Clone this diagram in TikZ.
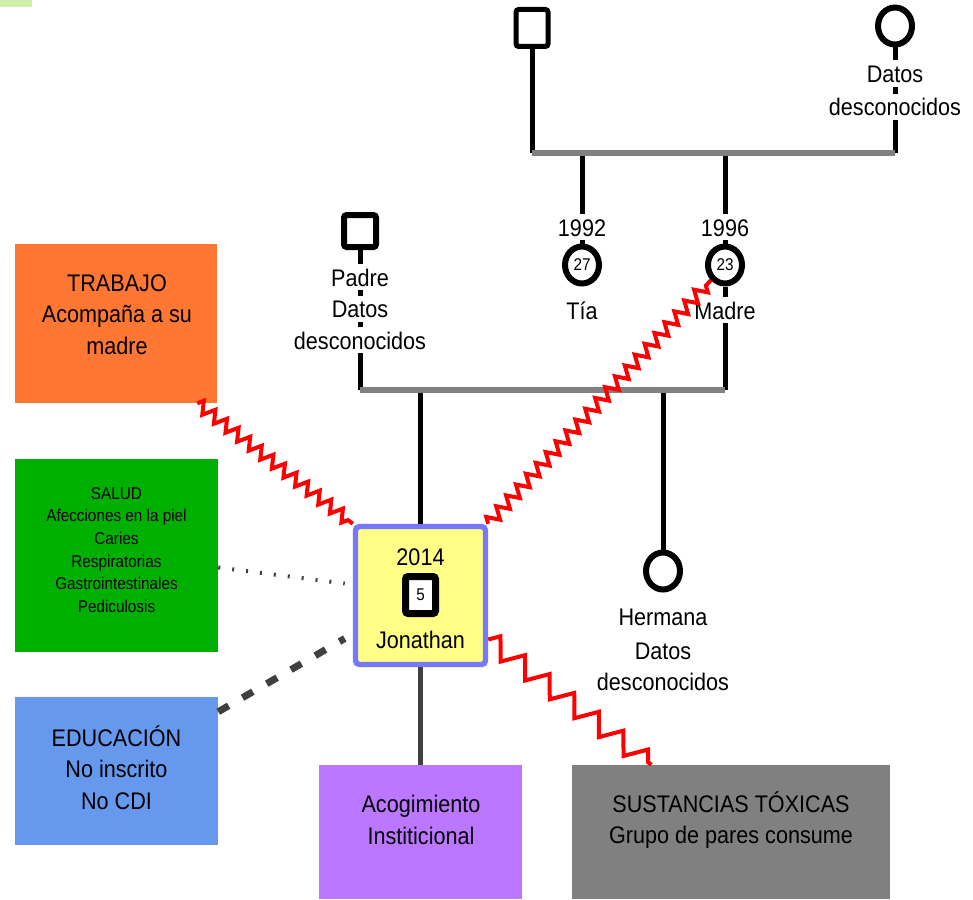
\documentclass[tikz,border=0pt]{standalone}
\usepackage{fontspec}
\setmainfont[FakeStretch=0.9]{Liberation Sans}
\usetikzlibrary{shapes.geometric, positioning, calc, decorations.pathmorphing}

\definecolor{linegray}{RGB}{128,128,128}
\definecolor{darkline}{RGB}{64,64,64}
\definecolor{trabajocol}{RGB}{255,119,51}
\definecolor{saludcol}{RGB}{0,176,0}
\definecolor{educol}{RGB}{102,153,238}
\definecolor{acogcol}{RGB}{187,119,255}
\definecolor{toxcol}{RGB}{128,128,128}
\definecolor{jfill}{RGB}{255,255,136}
\definecolor{jborder}{RGB}{119,119,255}
\definecolor{topgreen}{RGB}{204,240,170}

\newcommand{\gfont}{\fontsize{18}{23.75}\selectfont}
\newcommand{\gsmall}{\fontsize{12.75}{17}\selectfont}

\tikzset{
  kin/.style={line width=3.75pt},
  union/.style={line width=4.9pt, draw=linegray},
  male/.style={draw, line width=3.75pt, rounded corners=2pt, minimum width=24pt, minimum height=27.75pt, inner sep=0pt, fill=white},
  female/.style={ellipse, draw, line width=4.5pt, minimum width=25.5pt, minimum height=27.75pt, inner sep=0pt, fill=white, font=\gsmall},
  gtxt/.style={fill=white, inner sep=0pt, text height=16.5pt, text depth=3pt, font=\gfont},
  area/.style={rectangle, inner sep=0pt},
  areatxt/.style={align=center, inner sep=0pt, font=\gfont},
  zig/.style={draw=red, line width=3pt, decorate, decoration={zigzag, segment length=11pt, amplitude=4.5pt}},
}

\begin{document}
\begin{tikzpicture}[x=0.75pt, y=-0.75pt]
\useasboundingbox (0,0) rectangle (973,899);
\fill[topgreen] (0,0) rectangle (32,7);

% familia
\node[male] (abuelo) at (532,28) {};
\node[female] (abuela) at (895,26) {};
\node[female] (tia) at (582,265) {27};
\node[female] (madre) at (725,265) {23};
\node[male, minimum height=24pt, line width=4.5pt] (padre) at (360,231) {};
\node[female] (hermana) at (663,571) {};

% Jonathan
\node[draw=jborder, fill=jfill, line width=4.1pt, rounded corners=3pt, minimum width=97.5pt, minimum height=103.5pt] (jonathan) at (420.5,595.5) {};
\node[male, line width=5.25pt, minimum width=22.5pt, font=\gsmall] (jsq) at (420.5,595) {5};
\node[areatxt] (jyear) at (420.5,557) {2014};
\node[areatxt] (jname) at (420.5,640) {Jonathan};

% areas
\node[area, fill=trabajocol, minimum width=151.5pt, minimum height=119.25pt] (trabajo) at (116,323.5) {};
\node[areatxt] (trabajotxt) at (117,314.5) {TRABAJO\\Acompaña a su\\madre};
\node[area, fill=saludcol, minimum width=152.25pt, minimum height=144.75pt] (salud) at (116.5,555.5) {};
\node[areatxt, font=\gsmall] (saludtxt) at (116.5,550) {SALUD\\Afecciones en la piel\\Caries\\Respiratorias\\Gastrointestinales\\Pediculosis};
\node[area, fill=educol, minimum width=152.25pt, minimum height=111pt] (educacion) at (116.5,771) {};
\node[areatxt] (educaciontxt) at (116.5,767.5) {EDUCACIÓN\\No inscrito\\No CDI};
\node[area, fill=acogcol, minimum width=152.25pt, minimum height=100.5pt] (acogimiento) at (420.5,832) {};
\node[areatxt] (acogimientotxt) at (421,820) {Acogimiento\\Institicional};
\node[area, fill=toxcol, minimum width=238.5pt, minimum height=100.5pt] (sustancias) at (731,832) {};
\node[areatxt] (sustanciastxt) at (731,820) {SUSTANCIAS TÓXICAS\\Grupo de pares consume};

% uniones
\coordinate (u1a) at (532,153);
\coordinate (u1b) at (895,153);
\coordinate (u2a) at (360,390);
\coordinate (u2b) at (725,390);

\draw[kin] (abuelo.south) -- (u1a);
\draw[kin] (abuela.south) -- (u1b);
\draw[kin] (tia |- u1a) -- (tia.north);
\draw[kin] (madre |- u1a) -- (madre.north);
\draw[kin] (madre.south) -- (u2b);
\draw[kin] (padre.south) -- (u2a);
\draw[kin] (jonathan |- u2a) -- (jonathan.north);
\draw[kin] (hermana |- u2a) -- (hermana.north);
\draw[kin, darkline] (jonathan.south) -- (acogimiento.north);
\draw[union] (u1a) -- (u1b);
\draw[union] (u2a) -- (u2b);

% textos sobre las lineas
\node[gtxt] (abuelad1) at (895,73.5) {Datos};
\node[gtxt] (abuelad2) at (895,106.5) {desconocidos};
\node[gtxt] (tiaano) at (582,227) {1992};
\node[gtxt] (tianom) at (582,310) {Tía};
\node[gtxt] (madreano) at (725,227) {1996};
\node[gtxt] (madrenom) at (725,310) {Madre};
\node[gtxt] (padrenom) at (360,277) {Padre};
\node[gtxt] (padred1) at (360,308.5) {Datos};
\node[gtxt] (padred2) at (360,340) {desconocidos};
\node[gtxt] (hermananom) at (663,616) {Hermana};
\node[gtxt] (hermanad1) at (663,650) {Datos};
\node[gtxt] (hermanad2) at (663,681) {desconocidos};

% relaciones
\draw[zig] ($(trabajo.south east)+(-20,0)$) -- (jonathan.north west);
\draw[zig] (jonathan.north east) -- (madre.south west);
\draw[zig, decoration={segment length=23.25pt, amplitude=7.5pt}] (jonathan.-33) -- ($(sustancias.north west)!0.25!(sustancias.north east)$);
\draw[darkline, line width=3pt, dash pattern=on 1.5pt off 9pt] ($(salud.east)+(0,12)$) -- ($(jonathan.west)+(-8,-12)$);
\draw[darkline, line width=5.25pt, dash pattern=on 9pt off 12pt] ($(educacion.north east)+(0,15)$) -- ($(jonathan.west)+(-8,43)$);
\end{tikzpicture}
\end{document}
